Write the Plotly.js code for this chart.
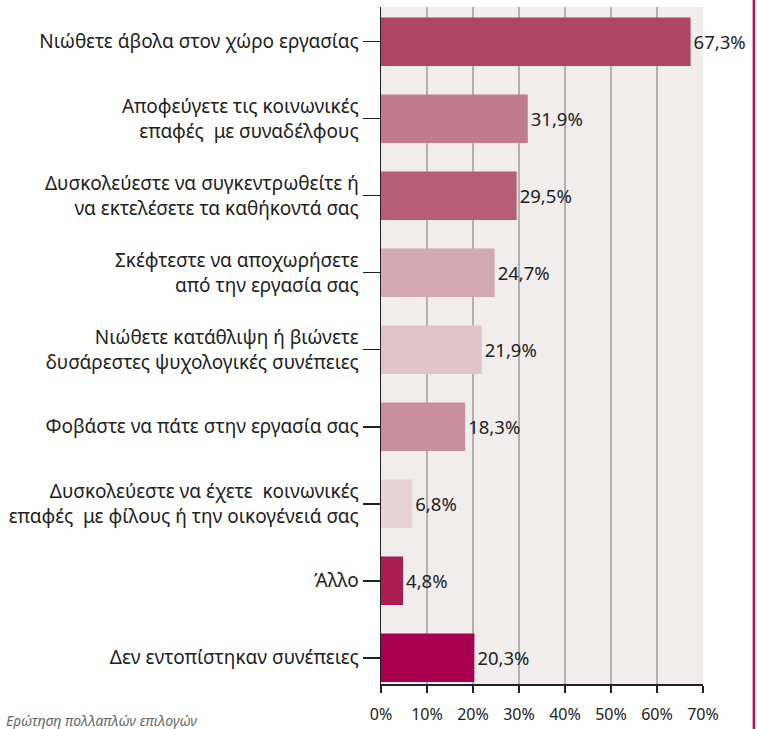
<!DOCTYPE html>
<html>
<head>
<meta charset="utf-8">
<script src="https://cdn.plot.ly/plotly-3.0.1.min.js"></script>
<style>
html,body{margin:0;padding:0;background:#fff;}
#chart{width:758px;height:729px;}
</style>
</head>
<body>
<div id="chart"></div>
<script>
const categories = [
  "Νιώθετε άβολα στον χώρο εργασίας",
  "Αποφεύγετε τις κοινωνικές<br>επαφές  με συναδέλφους",
  "Δυσκολεύεστε να συγκεντρωθείτε ή<br>να εκτελέσετε τα καθήκοντά σας",
  "Σκέφτεστε να αποχωρήσετε<br>από την εργασία σας",
  "Νιώθετε κατάθλιψη ή βιώνετε<br>δυσάρεστες ψυχολογικές συνέπειες",
  "Φοβάστε να πάτε στην εργασία σας",
  "Δυσκολεύεστε να έχετε  κοινωνικές<br>επαφές  με φίλους ή την οικογένειά σας",
  "Άλλο",
  "Δεν εντοπίστηκαν συνέπειες"
];
const values = [67.3, 31.9, 29.5, 24.7, 21.9, 18.3, 6.8, 4.8, 20.3];
const barColors = ["#ae4566", "#bf7a8b", "#b65e78", "#d2a9b5", "#dfc4cc", "#c98f9f", "#e6d4d8", "#a91c54", "#a8004f"];
const xTicks = [0, 10, 20, 30, 40, 50, 60, 70];
const xTickLabels = ["0%", "10%", "20%", "30%", "40%", "50%", "60%", "70%"];
const footnote = "Ερώτηση πολλαπλών επιλογών";

const labels = values.map(v => v.toFixed(1).replace('.', ',') + '%');
const font = "'Noto Sans', 'Open Sans', sans-serif";

const trace = {
  type: 'bar',
  orientation: 'h',
  y: categories,
  x: values,
  marker: {color: barColors},
  width: 0.63,
  text: labels,
  textposition: 'outside',
  textfont: {family: font, size: 18.5, color: '#222'},
  cliponaxis: false,
  hoverinfo: 'none'
};

const layout = {
  width: 758, height: 729,
  margin: {l: 381, r: 55, t: 7, b: 45, pad: 0},
  paper_bgcolor: '#ffffff',
  plot_bgcolor: '#f1eded',
  showlegend: false,
  font: {family: font, size: 17, color: '#222'},
  xaxis: {
    range: [0, 70],
    tickvals: xTicks,
    ticktext: xTickLabels,
    showgrid: true, gridcolor: '#b4b0b0', gridwidth: 2,
    zeroline: false,
    showline: true, linecolor: '#222', linewidth: 1.5,
    ticks: 'outside', ticklen: 7, tickcolor: '#222', tickwidth: 1.5,
    ticklabelstandoff: 8,
    tickfont: {family: font, size: 16, color: '#222'},
    fixedrange: true
  },
  yaxis: {
    type: 'category',
    range: [8.34, -0.45],
    showgrid: false, zeroline: false,
    showline: true, linecolor: '#222', linewidth: 1.5,
    ticks: 'outside', ticklen: 17, tickcolor: '#222', tickwidth: 1.5,
    tickfont: {family: font, size: 19, color: '#222'},
    fixedrange: true
  },
  shapes: [{
    type: 'line', xref: 'paper', yref: 'paper',
    x0: 1.158, x1: 1.158, y0: -0.1, y1: 1.02,
    line: {color: '#b5135f', width: 2.5}
  }],
  annotations: [{
    xref: 'paper', yref: 'paper',
    x: -1.172, y: -0.037, xanchor: 'left', yanchor: 'top',
    text: '<i>' + footnote + '</i>',
    showarrow: false,
    font: {family: font, size: 14, color: '#666'}
  }]
};

Plotly.newPlot('chart', [trace], layout, {displayModeBar: false, staticPlot: true});
</script>
</body>
</html>
